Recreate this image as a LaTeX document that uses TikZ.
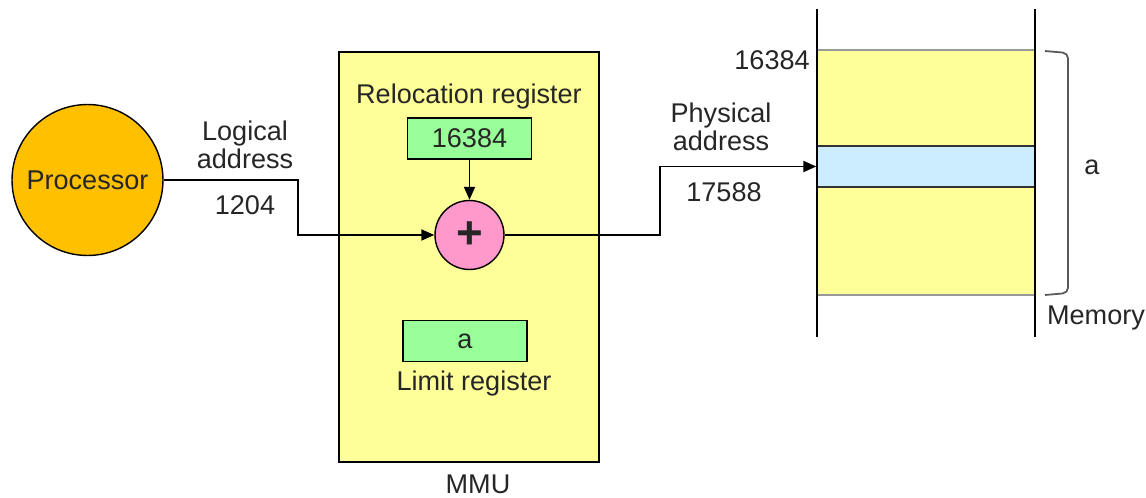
\documentclass[tikz,border=0pt]{standalone}
\usepackage{fontspec}
\setmainfont{Liberation Sans}
\usetikzlibrary{arrows.meta}
\definecolor{procorange}{HTML}{FFC000}
\definecolor{mmuyellow}{HTML}{FFFF99}
\definecolor{reggreen}{HTML}{99FF99}
\definecolor{adderpink}{HTML}{FF99CC}
\definecolor{slotblue}{HTML}{CCECFF}
\begin{document}
\begin{tikzpicture}[
  x=0.02cm, y=-0.02cm,
  every node/.style={font=\fontsize{15.4}{16}\selectfont, text=black!85},
  reg/.style={
    draw,
    fill=reggreen,
    line width=0.8pt,
    minimum width=2.48cm,
    minimum height=0.82cm,
    inner sep=0pt
  },
  memcell/.style={
    draw=black!40,
    fill=mmuyellow,
    line width=0.8pt,
    minimum width=4.36cm,
    inner sep=0pt
  },
  wall/.style={line width=1pt},
  bracket/.style={draw=black!65, line width=1pt, rounded corners=3pt},
  arrow/.style={-{Triangle[length=0.26cm, width=0.22cm]}, line width=1.1pt}
]
\useasboundingbox (0,0) rectangle (1146,497);

% processor and MMU
\node[circle, draw, fill=procorange, line width=0.8pt, minimum size=3.02cm, inner sep=0pt] (proc) at (87.5,180) {Processor};
\node[draw, fill=mmuyellow, line width=1pt, minimum width=5.2cm, minimum height=8.2cm] (mmu) at (469,257) {};
\node (mmuText) at (478,484) {MMU};

\node (relocText) at (469,97) {Relocation register};
\node[reg] (reloc) at (469.5,138.5) {16384};
\node[circle, draw, fill=adderpink, line width=0.8pt, minimum size=1.38cm, inner sep=0pt,
  font=\fontsize{26}{26}\selectfont\bfseries] (adder) at (469.5,235) {+};
\node[reg] (limit) at (465,341) {a};
\node (limitText) at (474,383) {Limit register};

% memory
\node[memcell, minimum height=1.92cm] (memTop) at (926,98) {};
\node[memcell, minimum height=2.16cm] (memBot) at (926,241) {};
\node[memcell, fill=slotblue, draw=black!80, minimum height=0.82cm] (memSlot) at (926,166.5) {};
\coordinate (wallLT) at (817,9);
\coordinate (wallLB) at (817,337);
\coordinate (wallRT) at (1035,9);
\coordinate (wallRB) at (1035,337);
\draw[wall] (wallLT) -- (wallLB);
\draw[wall] (wallRT) -- (wallRB);
\node[anchor=east, inner sep=0pt] (memStart) at (810,60) {16384};

\coordinate (brTop) at (1045,51);
\coordinate (brBot) at (1045,295);
\draw[bracket] (brTop) -- (1068,53) -- (1068,293) -- (brBot);
\node (memSize) at (1092,167) {a};
\node (memName) at (1096,318) {Memory};

% address paths
\node[align=center] (logText) at (245,145) {Logical\\address};
\node (logVal) at (245,205) {1204};
\node[align=center] (physText) at (721,127) {Physical\\address};
\node (physVal) at (724,192) {17588};

\coordinate (inTurn) at (298,180);
\coordinate (outTurn) at (660,235);
\draw[arrow] (proc.east) -- (inTurn) |- (adder.west);
\draw[arrow] (reloc.south) -- (adder.north);
\draw[arrow] (adder.east) -- (outTurn) |- (memSlot.west);
\end{tikzpicture}
\end{document}
